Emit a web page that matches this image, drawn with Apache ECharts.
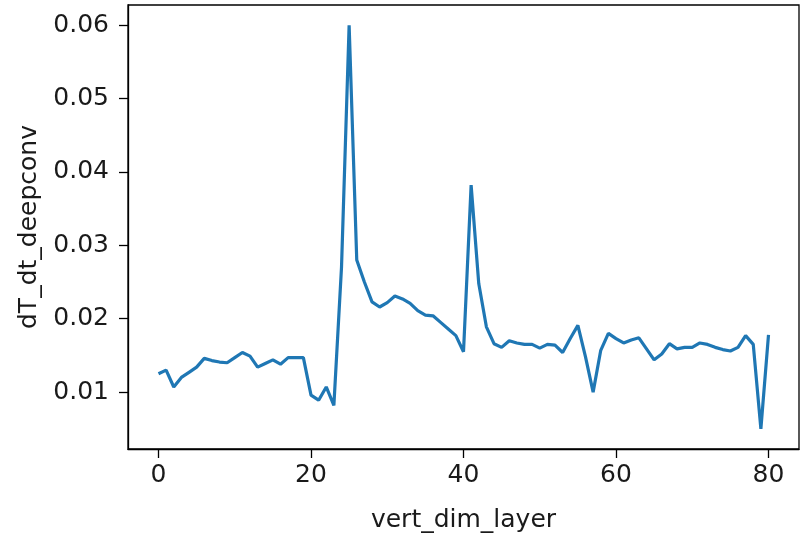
<!DOCTYPE html>
<html>
<head>
<meta charset="utf-8">
<script src="https://cdn.jsdelivr.net/npm/echarts@6/dist/echarts.min.js"></script>
<style>
html,body{margin:0;padding:0;background:#fff;}
#chart{width:804px;height:538px;}
</style>
</head>
<body>
<div id="chart"></div>
<script>
// x: vert_dim_layer 0..80
const layers = Array.from({length: 81}, (_, i) => i);
const dTdtDeepconv = [
  0.0125, 0.0130, 0.0107, 0.0120, 0.0127, 0.0134, 0.0146, 0.0143, 0.0141, 0.0140,
  0.0147, 0.0154, 0.0149, 0.0134, 0.0139, 0.0144, 0.0138, 0.0147, 0.0147, 0.0147,
  0.0096, 0.0089, 0.0107, 0.0082, 0.0270, 0.0600, 0.0280, 0.0250, 0.0223, 0.0216,
  0.0222, 0.0231, 0.0227, 0.0221, 0.0211, 0.0205, 0.0204, 0.0195, 0.0186, 0.0177,
  0.0155, 0.0382, 0.0248, 0.0189, 0.0166, 0.0161, 0.0170, 0.0167, 0.0165, 0.0165,
  0.0160, 0.0165, 0.0164, 0.0154, 0.0173, 0.0191, 0.0148, 0.0100, 0.0157, 0.0180,
  0.0173, 0.0167, 0.0171, 0.0174, 0.0159, 0.0144, 0.0152, 0.0166, 0.0159, 0.0161,
  0.0161, 0.0167, 0.0165, 0.0161, 0.0158, 0.0156, 0.0161, 0.0177, 0.0165, 0.0050,
  0.0178
];
const xTicks = [0, 20, 40, 60, 80];
const yTicks = [0.01, 0.02, 0.03, 0.04, 0.05, 0.06];
const xName = 'vert_dim_layer';
const yName = 'dT_dt_deepconv';

// matplotlib-like 5% margins
const xMinD = Math.min(...layers), xMaxD = Math.max(...layers);
const xPad = (xMaxD - xMinD) * 0.05;
const yMinD = Math.min(...dTdtDeepconv), yMaxD = Math.max(...dTdtDeepconv);
const yPad = (yMaxD - yMinD) * 0.05;

const font = 'DejaVu Sans';
const fs = 25;
const chart = echarts.init(document.getElementById('chart'), null, {renderer: 'canvas'});
chart.setOption({
  animation: false,
  backgroundColor: '#fff',
  grid: {left: 128, right: 5, top: 5, bottom: 89, containLabel: false, outerBoundsMode: 'none',
    show: true, borderColor: '#000', borderWidth: 1.3, backgroundColor: 'transparent'},
  xAxis: {
    type: 'value',
    min: xMinD - xPad, max: xMaxD + xPad,
    name: xName, nameLocation: 'middle', nameGap: 59,
    nameTextStyle: {fontFamily: font, fontSize: fs, color: '#1a1a1a'},
    axisLine: {show: true, onZero: false, lineStyle: {color: '#000', width: 1.3}},
    axisTick: {show: true, customValues: xTicks, length: 9, inside: false, lineStyle: {color: '#000', width: 1.3}},
    axisLabel: {customValues: xTicks, fontFamily: font, fontSize: fs, color: '#1a1a1a', margin: 14,
      formatter: v => String(v)},
    splitLine: {show: false}
  },
  yAxis: {
    type: 'value',
    min: yMinD - yPad, max: yMaxD + yPad,
    name: yName, nameLocation: 'middle', nameGap: 83,
    nameTextStyle: {fontFamily: font, fontSize: fs, color: '#1a1a1a'},
    axisLine: {show: true, onZero: false, lineStyle: {color: '#000', width: 1.3}},
    axisTick: {show: true, customValues: yTicks, length: 9, inside: false, lineStyle: {color: '#000', width: 1.3}},
    axisLabel: {customValues: yTicks, fontFamily: font, fontSize: fs, color: '#1a1a1a', margin: 19,
      formatter: v => v.toFixed(2)},
    splitLine: {show: false}
  },
  series: [{
    type: 'line',
    data: layers.map((x, i) => [x, dTdtDeepconv[i]]),
    showSymbol: false,
    symbol: 'none',
    lineStyle: {color: '#1f77b4', width: 3.2},
    itemStyle: {color: '#1f77b4'}
  }]
});
</script>
</body>
</html>
